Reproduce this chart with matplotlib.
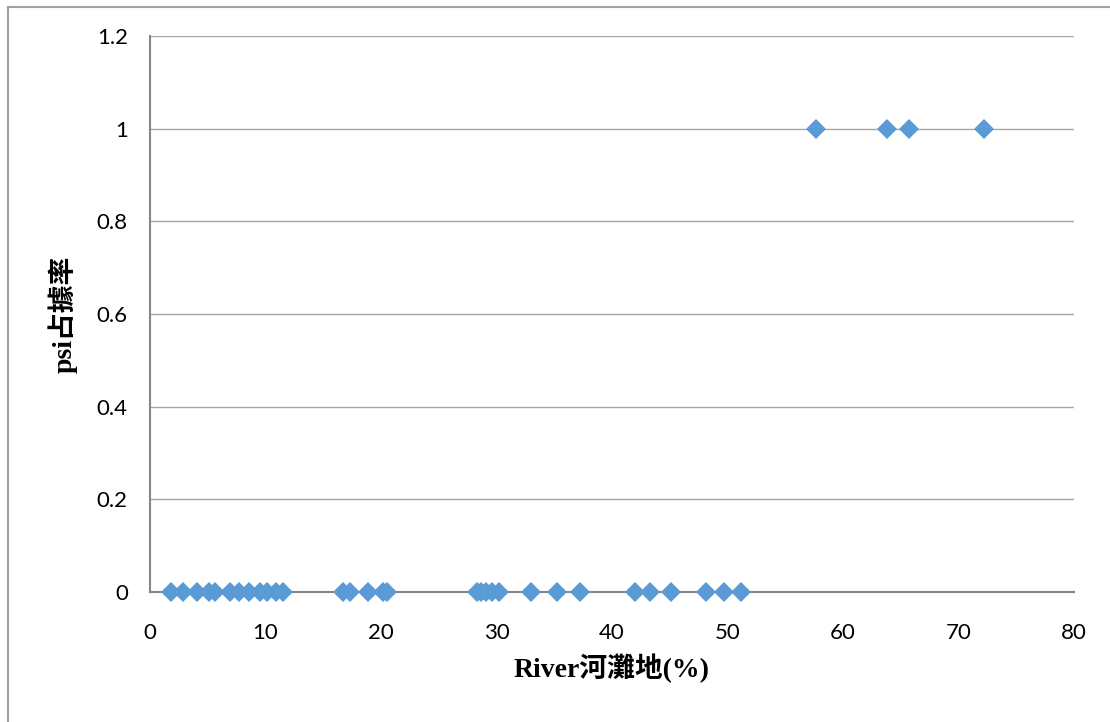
import numpy as np
import matplotlib.pyplot as plt
from matplotlib.lines import Line2D

# River 河灘地 (%) vs psi 占據率
x_zero = [1.8, 2.9, 4.1, 5.1, 5.6, 6.9, 7.7, 8.6, 9.5, 10.1, 10.9, 11.5,
          16.7, 17.3, 18.9, 20.2, 20.5,
          28.3, 28.7, 29.1, 29.6, 30.2, 33.0, 35.2, 37.2,
          42.0, 43.3, 45.1, 48.1, 49.7, 51.2]
x_one = [57.7, 63.8, 65.7, 72.2]
x = x_zero + x_one
y = [0] * len(x_zero) + [1] * len(x_one)

xticks = np.arange(0, 81, 10)
yticks = [0, 0.2, 0.4, 0.6, 0.8, 1, 1.2]
ytick_labels = ['0', '0.2', '0.4', '0.6', '0.8', '1', '1.2']

label_font = ['Liberation Serif', 'Noto Sans CJK TC']

fig = plt.figure(figsize=(11.1, 7.22), dpi=100)
ax = fig.add_axes([150/1110, 1-592/722, (1074-150)/1110, (592-36)/722])

ax.plot(x, y, linestyle='none', marker='D', markersize=10.5,
        color='#5B9BD5', markeredgewidth=0, zorder=3, clip_on=False)

ax.set_xlim(0, 80)
ax.set_ylim(0, 1.2)
ax.set_xticks(xticks)
ax.set_yticks(yticks)
ax.set_yticklabels(ytick_labels)
ax.tick_params(length=0, labelsize=16, colors='black')
ax.tick_params(axis='y', pad=16)
ax.tick_params(axis='x', pad=22)
for lab in ax.get_xticklabels() + ax.get_yticklabels():
    lab.set_family('Lato')

ax.grid(axis='y', color='#A6A6A6', linewidth=1)
ax.set_axisbelow(True)
for side in ['top', 'right']:
    ax.spines[side].set_visible(False)
ax.spines['left'].set_color('#868686')
ax.spines['bottom'].set_color('#868686')
ax.spines['left'].set_linewidth(1.5)
ax.spines['bottom'].set_linewidth(1.5)

ax.set_xlabel('River河灘地(%)', family=label_font, fontsize=20,
              fontweight='bold', labelpad=8)
ax.set_ylabel('psi占據率', family=label_font, fontsize=20,
              fontweight='bold', labelpad=14)

# outer chart border (left and top)
fig.add_artist(Line2D([8/1110, 8/1110], [0, 1-7/722], color='#A0A0A0', lw=1.5))
fig.add_artist(Line2D([8/1110, 1], [1-7/722, 1-7/722], color='#A0A0A0', lw=1.5))

fig.savefig('out.png', dpi=100)
